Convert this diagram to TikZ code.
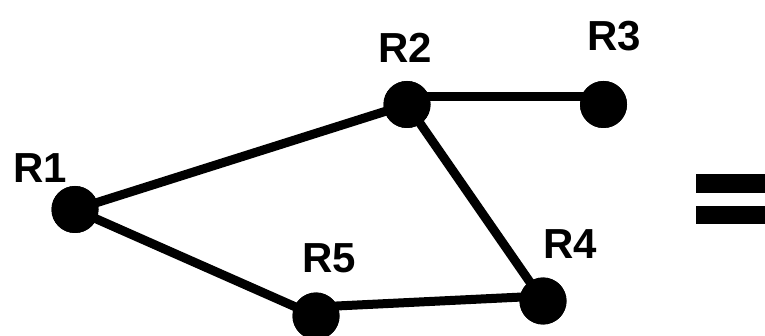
\documentclass[tikz,border=0pt]{standalone}
\usepackage{fontspec}
\setmainfont{Liberation Sans}
\begin{document}
\begin{tikzpicture}[x=1pt,y=-1pt,
  router/.style={circle,fill=black,inner sep=0pt,minimum size=47pt},
  link/.style={line width=9pt},
  lbl/.style={font=\fontsize{42}{42}\selectfont\bfseries,inner sep=0pt,anchor=center},
  bar/.style={fill=black}]
  \useasboundingbox (0,0) rectangle (765,336);
  % routers
  \node[router] (r1) at (75,209.5) {};
  \node[router] (r2) at (407,104.5) {};
  \node[router] (r3) at (603.5,104.5) {};
  \node[router] (r4) at (543,301) {};
  \node[router] (r5) at (316,316) {};
  % labels
  \node[lbl] (l1) at (40,168) {R1};
  \node[lbl] (l2) at (405,47.5) {R2};
  \node[lbl] (l3) at (614,36) {R3};
  \node[lbl] (l4) at (570,244) {R4};
  \node[lbl] (l5) at (329,258) {R5};
  % links
  \draw[link] (r1.center) -- (r2.center);
  \draw[link] (r1.center) -- (r5.center);
  \draw[link] ([yshift=8pt]r2.center) -- ([yshift=8pt]r3.center);
  \draw[link] (r2.center) -- (r4.center);
  \draw[link] ([yshift=9pt]r5.center) -- ([yshift=5pt]r4.center);
  % dots drawn over the link ends
  \foreach \n in {r1,r2,r3,r4,r5} \fill (\n) circle (23.5);
  % equals sign
  \fill[bar] (696,174.3) rectangle (765,192.7);
  \fill[bar] (696,205.7) rectangle (765,224);
\end{tikzpicture}
\end{document}
